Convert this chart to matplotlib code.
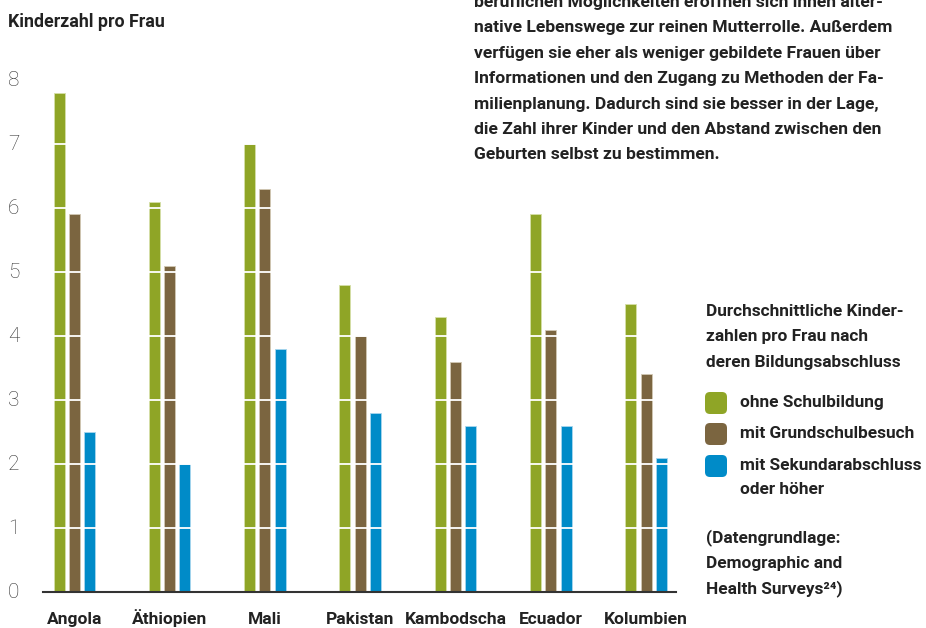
import numpy as np
import matplotlib
matplotlib.use('Agg')
import matplotlib.pyplot as plt
from matplotlib.patches import FancyBboxPatch
import matplotlib.transforms as mtransforms

plt.rcParams['font.family'] = ['Roboto', 'DejaVu Sans']

# Daten (Kinderzahl pro Frau nach Bildungsabschluss)
laender = ['Angola', 'Äthiopien', 'Mali', 'Pakistan', 'Kambodscha', 'Ecuador', 'Kolumbien']
ohne_schule = [7.8, 6.1, 7.0, 4.8, 4.3, 5.9, 4.5]
grundschule = [5.9, 5.1, 6.3, 4.0, 3.6, 4.1, 3.4]
sekundar = [2.5, 2.0, 3.8, 2.8, 2.6, 2.6, 2.1]
y_ticks = [0, 1, 2, 3, 4, 5, 6, 7, 8]

serien = ['ohne Schulbildung', 'mit Grundschulbesuch', 'mit Sekundarabschluss']
farben = ['#8fa526', '#7b6540', '#008bc8']
kanten = ['#d6e0a8', '#d2c8b4', '#a8d6ee']

W, H = 926, 628
fig = plt.figure(figsize=(W / 100, H / 100), dpi=100)

# Achse in Pixelkoordinaten platzieren
x0, x1 = 43, 676
y_base, px_per_unit = 592, 64
ymax = 8.3
y_top = y_base - ymax * px_per_unit
ax = fig.add_axes([x0 / W, 1 - y_base / H, (x1 - x0) / W, (y_base - y_top) / H])

x = np.arange(len(laender))
breite = 0.115
abstand = 0.16
for i, werte in enumerate([ohne_schule, grundschule, sekundar]):
    ax.bar(x + (i - 1) * abstand, werte, width=breite, color=farben[i],
           edgecolor=kanten[i], linewidth=0.6, zorder=2)

# weiße Gitterlinien über den Balken
for t in y_ticks[1:]:
    ax.axhline(t, color='white', lw=1.3, zorder=3)

ax.set_xlim((x0 - 74.3) / 95.3, (x1 - 74.3) / 95.3)
ax.set_ylim(0, ymax)
for s in ['top', 'right', 'left']:
    ax.spines[s].set_visible(False)
ax.spines['bottom'].set_color('#333333')
ax.spines['bottom'].set_linewidth(1.5)
ax.spines['bottom'].set_zorder(4)
ax.set_yticks([])
ax.set_xticks([])

# Länderbeschriftung (gemeinsame Grundlinie)
trans_x = mtransforms.blended_transform_factory(ax.transData, fig.transFigure)
for xi, name in zip(x, laender):
    ax.text(xi, 1 - 624 / H, name, transform=trans_x, ha='center', va='baseline',
            fontsize=12.5, fontweight='bold', color='#222222', clip_on=False)

# Y-Beschriftung ganz links
trans = mtransforms.blended_transform_factory(fig.transFigure, ax.transData)
for t in y_ticks:
    ax.text(8 / W, t, str(t), transform=trans, ha='left', va='center',
            fontsize=15, fontweight='light', color='#333333')

# Overlay in Pixelkoordinaten für Texte und Legende
ov = fig.add_axes([0, 0, 1, 1], zorder=5)
ov.set_xlim(0, W)
ov.set_ylim(H, 0)
ov.axis('off')
ov.patch.set_alpha(0)

ov.text(8, 22, 'Kinderzahl pro Frau', fontsize=12.8, fontweight='bold',
        color='#222222', va='center', ha='left')

absatz = [
    'beruflichen Möglichkeiten eröffnen sich ihnen alter-',
    'native Lebenswege zur reinen Mutterrolle. Außerdem',
    'verfügen sie eher als weniger gebildete Frauen über',
    'Informationen und den Zugang zu Methoden der Fa-',
    'milienplanung. Dadurch sind sie besser in der Lage,',
    'die Zahl ihrer Kinder und den Abstand zwischen den',
    'Geburten selbst zu bestimmen.',
]
for i, zeile in enumerate(absatz):
    ov.text(474, 2.5 + i * 25.4, zeile, fontsize=12.6, fontweight='bold',
            color='#222222', va='center', ha='left', clip_on=False)

leg_titel = ['Durchschnittliche Kinder-', 'zahlen pro Frau nach', 'deren Bildungsabschluss']
for i, zeile in enumerate(leg_titel):
    ov.text(706, 312 + i * 25, zeile, fontsize=12.4, fontweight='bold',
            color='#222222', va='center', ha='left')

leg_y = [403, 434, 466]
for i, name in enumerate(serien):
    ov.add_patch(FancyBboxPatch((705, leg_y[i] - 11), 22, 22,
                                boxstyle='round,pad=0,rounding_size=5',
                                fc=farben[i], ec='none'))
    ov.text(740, leg_y[i], name, fontsize=12.4, fontweight='bold', color='#222222',
            va='center', ha='left')
ov.text(740, 490, 'oder höher', fontsize=12.4, fontweight='bold', color='#222222',
        va='center', ha='left')

quelle = ['(Datengrundlage:', 'Demographic and', 'Health Surveys²⁴)']
for i, zeile in enumerate(quelle):
    ov.text(706, 538 + i * 25.5, zeile, fontsize=12.4, fontweight='bold',
            color='#222222', va='center', ha='left')

fig.savefig('out.png', dpi=100)
